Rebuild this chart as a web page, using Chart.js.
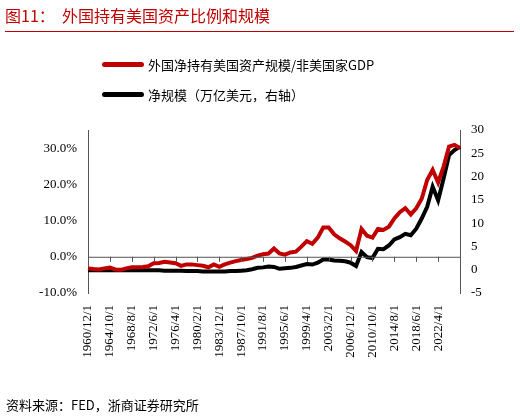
<!DOCTYPE html>
<html><head><meta charset="utf-8">
<script src="https://cdn.jsdelivr.net/npm/chart.js@4"></script>
<style>
body{margin:0;width:520px;height:418px;position:relative;background:#fff;overflow:hidden;font-family:"Noto Sans CJK SC",sans-serif}
#t{position:absolute;left:5px;top:3px;font-size:16px;color:#C00000;font-family:"Noto Sans CJK SC";}
#ln{position:absolute;left:5px;top:31px;width:509px;height:1px;background:#C00000}
.lg{position:absolute;left:102px;font-size:13px;color:#000;display:flex;align-items:center}
.lg span{display:inline-block;width:42px;height:5px;border-radius:3px;margin-right:4px}
#src{position:absolute;left:6px;top:395px;font-size:13px;color:#000}
canvas{position:absolute;left:0;top:0}
</style></head><body>
<canvas id="c" width="520" height="418"></canvas>
<div id="t">图11：&nbsp; 外国持有美国资产比例和规模</div>
<div id="ln"></div>
<div class="lg" style="top:55px"><span style="background:#C00000"></span>外国净持有美国资产规模/非美国家GDP</div>
<div class="lg" style="top:85px"><span style="background:#000"></span>净规模（万亿美元，右轴）</div>
<div id="src">资料来源：FED，浙商证券研究所</div>
<script>
const tickLabels=["1960/12/1","1964/10/1","1968/8/1","1972/6/1","1976/4/1","1980/2/1","1983/12/1","1987/10/1","1991/8/1","1995/6/1","1999/4/1","2003/2/1","2006/12/1","2010/10/1","2014/8/1","2018/6/1","2022/4/1"];
const ratioPct=[-3.2,-3.4,-3.5,-3.2,-3.0,-3.5,-3.6,-3.2,-2.9,-2.9,-2.8,-2.6,-1.8,-1.7,-1.4,-1.6,-1.8,-2.5,-2.1,-2.1,-2.3,-2.5,-2.9,-2.1,-2.8,-2.1,-1.6,-1.2,-0.9,-0.6,-0.3,0.3,0.7,0.9,2.3,0.9,0.6,1.2,1.4,2.8,4.3,3.6,5.3,8.1,8.1,6.2,5.1,4.2,3.2,1.6,7.7,5.8,5.3,7.7,7.4,8.3,10.6,12.3,13.4,11.7,13.4,16.0,21.2,24.0,20.5,24.9,30.4,30.9,30.0];
const netScale=[-0.1,-0.1,-0.1,-0.1,-0.1,-0.1,-0.1,-0.1,-0.1,-0.1,-0.1,-0.1,-0.1,-0.1,-0.2,-0.2,-0.2,-0.2,-0.3,-0.3,-0.3,-0.4,-0.4,-0.4,-0.4,-0.4,-0.3,-0.3,-0.2,-0.1,0.1,0.4,0.5,0.7,0.6,0.2,0.3,0.4,0.6,0.9,1.2,1.1,1.5,2.2,2.2,2.0,1.9,1.8,1.5,0.8,3.8,2.7,2.5,4.5,4.4,5.2,6.5,7.0,7.7,7.4,8.8,11.0,13.5,17.8,14.9,19.6,24.6,25.7,26.4];
const labels=ratioPct.map((v,i)=>i%4===0&&tickLabels[i/4]?tickLabels[i/4]:'');
const font={family:"Liberation Serif",size:13};
const zeroTicks={id:'zt',afterDraw(ch){const c=ch.ctx,x=ch.scales.x,y=ch.scales.y;const y0=y.getPixelForValue(0);c.save();c.strokeStyle='#555';c.lineWidth=1;c.beginPath();c.moveTo(ch.chartArea.left,y0+0.5);c.lineTo(ch.chartArea.right,y0+0.5);for(let i=0;i<labels.length;i+=4){const px=Math.round(x.getPixelForValue(i))+0.5;c.moveTo(px,y0);c.lineTo(px,y0+5);}c.stroke();c.restore();}};
new Chart(document.getElementById('c'),{type:'line',
data:{labels,datasets:[
{data:ratioPct,borderColor:'#C00000',borderWidth:4,pointRadius:0,yAxisID:'y',tension:0},
{data:netScale,borderColor:'#000',borderWidth:4,pointRadius:0,yAxisID:'y1',tension:0}]},
options:{responsive:false,animation:false,layout:{padding:{top:130,left:0,right:0,bottom:0}},
plugins:{legend:{display:false},tooltip:{enabled:false}},
scales:{
x:{offset:false,grid:{display:false},border:{display:false},ticks:{autoSkip:false,minRotation:90,maxRotation:90,font,color:'#000',padding:4},afterFit(s){s.height=125}},
y:{position:'left',min:-10,max:35,grid:{display:false,drawTicks:true},border:{color:'#555'},ticks:{stepSize:5,font,color:'#000',callback:v=>v.toFixed(1)+'%'},afterFit(s){s.width=88}},
y1:{position:'right',min:-5,max:30,grid:{display:false},border:{color:'#555'},ticks:{stepSize:5,font,color:'#000'},afterFit(s){s.width=60}}
}},plugins:[zeroTicks]});
</script></body></html>
